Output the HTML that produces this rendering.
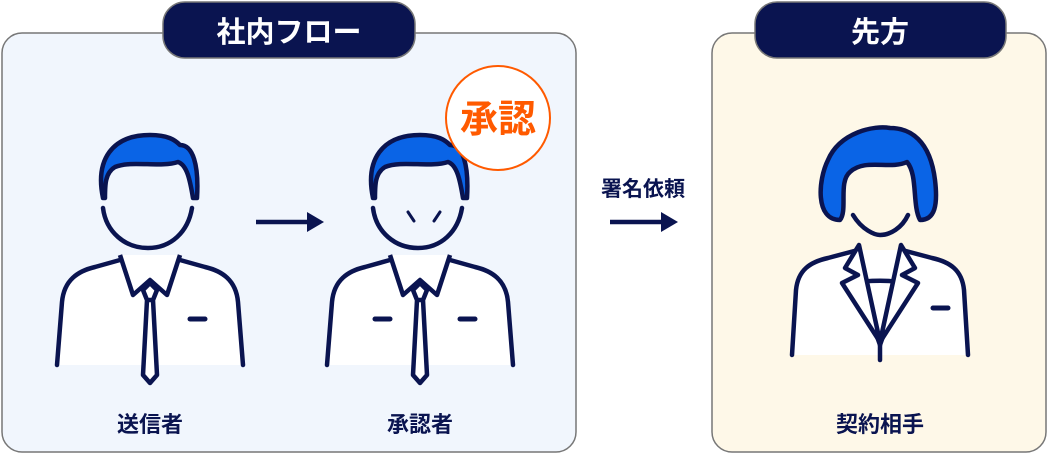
<!DOCTYPE html>
<html><head><meta charset="utf-8"><style>
body{margin:0;width:1048px;height:454px;background:#fff;overflow:hidden;font-family:"Liberation Sans","Noto Sans CJK JP",sans-serif}
</style></head><body>
<svg width="1048" height="454" viewBox="0 0 1048 454" xmlns="http://www.w3.org/2000/svg" font-family="Liberation Sans, Noto Sans CJK JP, sans-serif">
<defs>
<g id="man">
  <path d="M7,245 L12,182 C14,160 28,151 45,147 L70,140 L130,140 L155,147 C172,151 186,160 188,182 L193,245 Z" fill="#fff"/>
  <path d="M7,245 L12,182 C14,160 28,151 45,147 L70,140 M130,140 L155,147 C172,151 186,160 188,182 L193,245" fill="none" stroke="#0a1450" stroke-width="4.5" stroke-linejoin="round" stroke-linecap="round"/>
  <path d="M70,135 L83,175 L100,160 L117,175 L130,135" fill="#fff" stroke="#0a1450" stroke-width="4.5" stroke-linejoin="round"/>
  <path d="M93,170 L100,163 L107,170 L103,180 L97,180 Z M97,180 L93,255 L100,263 L107,255 L103,180" fill="#fff" stroke="#0a1450" stroke-width="4.5" stroke-linejoin="round"/>
  <path d="M53,78 C45,40 62,15 100,15 C118,15 125,20 130,25 C143,25 149,45 147,78 L143,78 C140,60 137,45 128,42 C110,48 82,40 65,47 C55,53 55,65 55,78 Z" fill="#0a64e6" stroke="#0a1450" stroke-width="4.5" stroke-linejoin="round"/>
  <path d="M53,88 C56,112 75,128 98,128 C121,128 138,112 142,88" fill="none" stroke="#0a1450" stroke-width="4.5" stroke-linecap="round"/>
  <line x1="140" y1="199" x2="155" y2="199" stroke="#0a1450" stroke-width="5" stroke-linecap="round"/>
</g>
</defs>
<rect x="2" y="33" width="574" height="419" rx="20" fill="#f1f6fd" stroke="#777" stroke-width="1.5"/>
<rect x="712" y="33" width="334" height="419" rx="20" fill="#fef8e8" stroke="#777" stroke-width="1.5"/>
<rect x="163" y="2" width="252" height="56" rx="22" fill="#0a1450" stroke="#777" stroke-width="1.5"/>
<text x="289" y="42" text-anchor="middle" font-size="29" font-weight="bold" fill="#fff">社内フロー</text>
<rect x="755" y="2" width="251" height="56" rx="22" fill="#0a1450" stroke="#777" stroke-width="1.5"/>
<text x="880" y="42" text-anchor="middle" font-size="29" font-weight="bold" fill="#fff">先方</text>

<g transform="translate(50,120)"><use href="#man"/></g>
<g transform="translate(320,120)"><use href="#man"/>
  <line x1="55" y1="199" x2="70" y2="199" stroke="#0a1450" stroke-width="5" stroke-linecap="round"/>
  <line x1="88" y1="92" x2="94" y2="101" stroke="#0a1450" stroke-width="3" stroke-linecap="round"/>
  <line x1="120" y1="92" x2="114" y2="101" stroke="#0a1450" stroke-width="3" stroke-linecap="round"/>
</g>

<circle cx="498" cy="118" r="52" fill="#fff" stroke="#ff5a00" stroke-width="2"/>
<text x="498" y="132" text-anchor="middle" font-size="38" font-weight="bold" fill="#ff5a00">承認</text>

<!-- woman -->
<g transform="translate(780,120)">
  <path d="M12,235 L16,170 C18,150 30,142 48,138 L78,130 L122,130 L152,138 C170,142 182,150 184,170 L188,235 Z" fill="#fff"/>
  <path d="M12,235 L16,170 C18,150 30,142 48,138 L78,130 M122,130 L152,138 C170,142 182,150 184,170 L188,235" fill="none" stroke="#0a1450" stroke-width="4.5" stroke-linejoin="round" stroke-linecap="round"/>
  <path d="M78,163 C85,160 115,160 122,163 L100,225 Z" fill="#fff" stroke="#0a1450" stroke-width="4.5" stroke-linejoin="round"/>
  <path d="M79,125 L65,148 L78,155 L62,163 L100,222 Z" fill="#fff" stroke="#0a1450" stroke-width="4.5" stroke-linejoin="round"/>
  <path d="M121,125 L135,148 L122,155 L138,163 L100,222 Z" fill="#fff" stroke="#0a1450" stroke-width="4.5" stroke-linejoin="round"/>
  <line x1="100" y1="222" x2="100" y2="240" stroke="#0a1450" stroke-width="4.5" stroke-linecap="round"/>
  <line x1="153" y1="188" x2="168" y2="188" stroke="#0a1450" stroke-width="5" stroke-linecap="round"/>
  <path d="M60,100 C35,100 38,60 48,40 C60,12 95,5 110,8 C130,8 150,20 155,60 C158,85 155,100 140,100 C132,85 138,55 127,42 C110,50 85,38 70,52 C58,62 68,90 60,100 Z" fill="#0a64e6" stroke="#0a1450" stroke-width="4.5" stroke-linejoin="round"/>
  <path d="M73,95 C82,110 95,115 100,115 C110,115 122,108 128,95" fill="none" stroke="#0a1450" stroke-width="4.5" stroke-linecap="round"/>
</g>

<line x1="256" y1="222" x2="310" y2="222" stroke="#0a1450" stroke-width="4.5"/>
<polygon points="307,212 324,222 307,232" fill="#0a1450"/>
<line x1="610" y1="222" x2="664" y2="222" stroke="#0a1450" stroke-width="4.5"/>
<polygon points="661,212 678,222 661,232" fill="#0a1450"/>
<text x="643" y="196" text-anchor="middle" font-size="21" font-weight="bold" fill="#0a1450">署名依頼</text>

<text x="150" y="432" text-anchor="middle" font-size="22" font-weight="bold" fill="#0a1450">送信者</text>
<text x="420" y="432" text-anchor="middle" font-size="22" font-weight="bold" fill="#0a1450">承認者</text>
<text x="880" y="432" text-anchor="middle" font-size="22" font-weight="bold" fill="#0a1450">契約相手</text>
</svg>
</body></html>
